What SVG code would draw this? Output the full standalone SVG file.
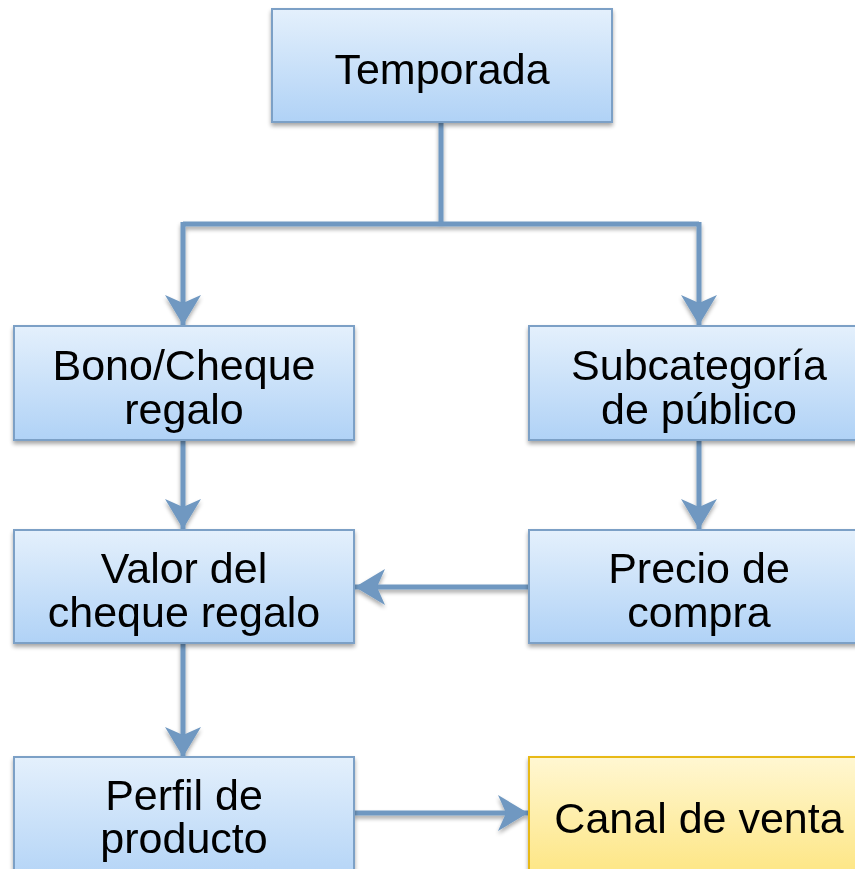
<svg xmlns="http://www.w3.org/2000/svg" width="855" height="869" viewBox="0 0 855 869">
<defs>
<linearGradient id="gb" x1="0" y1="0" x2="0" y2="1"><stop offset="0" stop-color="#e4f0fc"/><stop offset="1" stop-color="#b0d2f6"/></linearGradient>
<linearGradient id="gy" x1="0" y1="0" x2="0" y2="1"><stop offset="0" stop-color="#fff7d2"/><stop offset="1" stop-color="#fde47c"/></linearGradient>
<filter id="sh" x="-10%" y="-10%" width="120%" height="130%"><feGaussianBlur in="SourceAlpha" stdDeviation="2"/><feOffset dx="0" dy="3"/><feComponentTransfer><feFuncA type="linear" slope="0.35"/></feComponentTransfer><feMerge><feMergeNode/><feMergeNode in="SourceGraphic"/></feMerge></filter>
<marker id="ah" markerUnits="userSpaceOnUse" markerWidth="40" markerHeight="40" refX="30" refY="18" orient="auto"><path d="M0,0 L30,18 L0,36 L8,18 Z" fill="#6f98c1"/></marker>
<style>
.box{fill:url(#gb);stroke:#7ba0c6;stroke-width:2}
.ybox{fill:url(#gy);stroke:#e8b917;stroke-width:2}
.t{font-family:"Liberation Sans",Arial,sans-serif;font-size:43px;fill:#000;text-anchor:middle}
.c{fill:none;stroke:#6f98c1;stroke-width:5}
</style>
</defs>
<g id="connectors" filter="url(#sh)">
<path class="c" d="M441,122 V224"/>
<path class="c" d="M183,224 H699"/>
<path class="c" d="M183,222 V325" marker-end="url(#ah)"/>
<path class="c" d="M699,222 V325" marker-end="url(#ah)"/>
<path class="c" d="M183,440 V529" marker-end="url(#ah)"/>
<path class="c" d="M699,440 V529" marker-end="url(#ah)"/>
<path class="c" d="M529,587 H355" marker-end="url(#ah)"/>
<path class="c" d="M183,643 V757" marker-end="url(#ah)"/>
<path class="c" d="M354,813 H528" marker-end="url(#ah)"/>
</g>
<g id="n-temporada" filter="url(#sh)"><rect class="box" x="272" y="9" width="340" height="113"/><text class="t" x="442" y="84">Temporada</text></g>
<g id="n-bono" filter="url(#sh)"><rect class="box" x="14" y="326" width="340" height="114"/><text class="t" x="184" y="380">Bono/Cheque</text><text class="t" x="184" y="424">regalo</text></g>
<g id="n-subcat" filter="url(#sh)"><rect class="box" x="529" y="326" width="340" height="114"/><text class="t" x="699" y="380">Subcategoría</text><text class="t" x="699" y="424">de público</text></g>
<g id="n-valor" filter="url(#sh)"><rect class="box" x="14" y="530" width="340" height="113"/><text class="t" x="184" y="583">Valor del</text><text class="t" x="184" y="627">cheque regalo</text></g>
<g id="n-precio" filter="url(#sh)"><rect class="box" x="529" y="530" width="340" height="113"/><text class="t" x="699" y="583">Precio de</text><text class="t" x="699" y="627">compra</text></g>
<g id="n-perfil" filter="url(#sh)"><rect class="box" x="14" y="757" width="340" height="130"/><text class="t" x="184" y="810">Perfil de</text><text class="t" x="184" y="853">producto</text></g>
<g id="n-canal" filter="url(#sh)"><rect class="ybox" x="529" y="757" width="340" height="130"/><text class="t" x="699" y="833">Canal de venta</text></g>
</svg>
